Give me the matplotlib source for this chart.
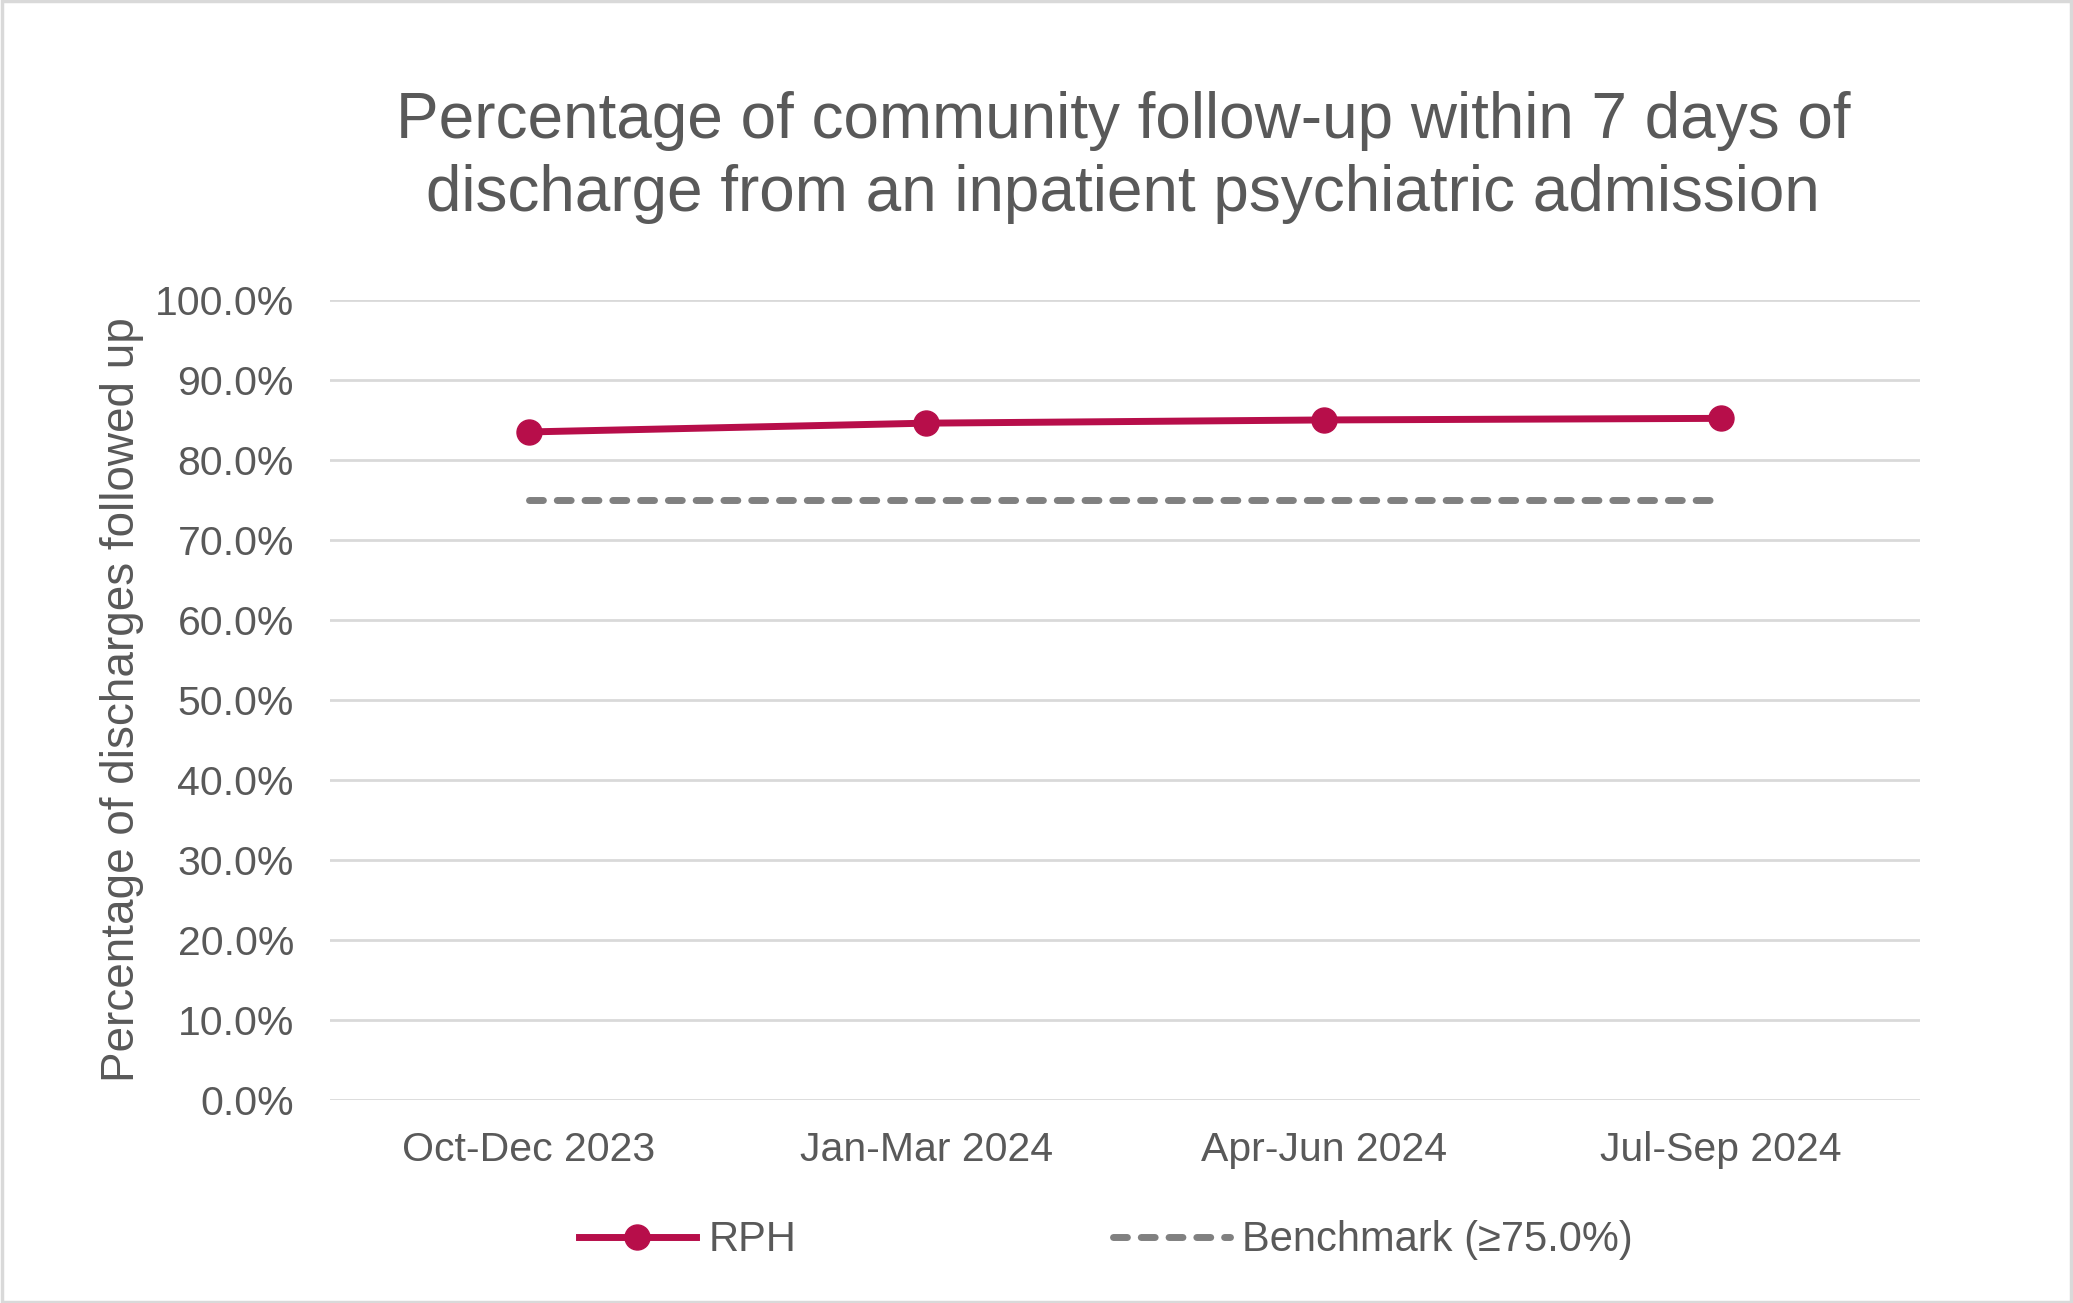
import matplotlib
matplotlib.use('Agg')
import matplotlib.pyplot as plt
from matplotlib.patches import Rectangle
from matplotlib.ticker import FuncFormatter

plt.rcParams['font.family'] = ['Liberation Sans', 'DejaVu Sans']

# 데이터
quarters = ['Oct-Dec 2023', 'Jan-Mar 2024', 'Apr-Jun 2024', 'Jul-Sep 2024']
rph_values = [83.5, 84.6, 85.0, 85.2]
benchmark_values = [75.0, 75.0, 75.0, 75.0]

text_color = '#595959'
rph_color = '#B70E4A'
bench_color = '#808080'
grid_color = '#D9D9D9'

fig = plt.figure(figsize=(20.73, 13.03), dpi=100)
ax = fig.add_axes([0.1592, 0.1558, 0.7670, 0.6140])

x = range(len(quarters))
ax.plot(x, rph_values, color=rph_color, linewidth=5, marker='o',
        markersize=18, label='RPH', zorder=3)
ax.plot(x, benchmark_values, color=bench_color, linewidth=5,
        linestyle=(0, (2, 2)), dash_capstyle='round',
        label='Benchmark (\u226575.0%)', zorder=2)

ax.set_xlim(-0.5, 3.5)
ax.set_ylim(0, 100)
ax.set_yticks(range(0, 101, 10))
ax.yaxis.set_major_formatter(FuncFormatter(lambda v, p: f'{v:.1f}%'))
ax.set_xticks(list(x))
ax.set_xticklabels(quarters)
ax.tick_params(axis='both', length=0, labelsize=29.5, labelcolor=text_color)
ax.tick_params(axis='y', pad=26)
ax.tick_params(axis='x', pad=22)
ax.grid(axis='y', color=grid_color, linewidth=2)
ax.set_axisbelow(True)
for s in ax.spines.values():
    s.set_visible(False)

ax.set_ylabel('Percentage of discharges followed up', fontsize=33,
              color=text_color, labelpad=8)

fig.text(0.5418, 0.879,
         'Percentage of community follow-up within 7 days of\n'
         'discharge from an inpatient psychiatric admission',
         ha='center', va='center', fontsize=46, color=text_color,
         linespacing=1.29)

fig.legend(loc='center', bbox_to_anchor=(0.5335, 0.048), ncol=2,
           frameon=False, fontsize=30, labelcolor=text_color,
           handlelength=2.8, handletextpad=0.3, columnspacing=7.6)

# 바깥 테두리
fig.patches.append(Rectangle((0.001, 0.001), 0.998, 0.998,
                             transform=fig.transFigure, fill=False,
                             edgecolor=grid_color, linewidth=2.5))

fig.savefig('out.png', dpi=100)
